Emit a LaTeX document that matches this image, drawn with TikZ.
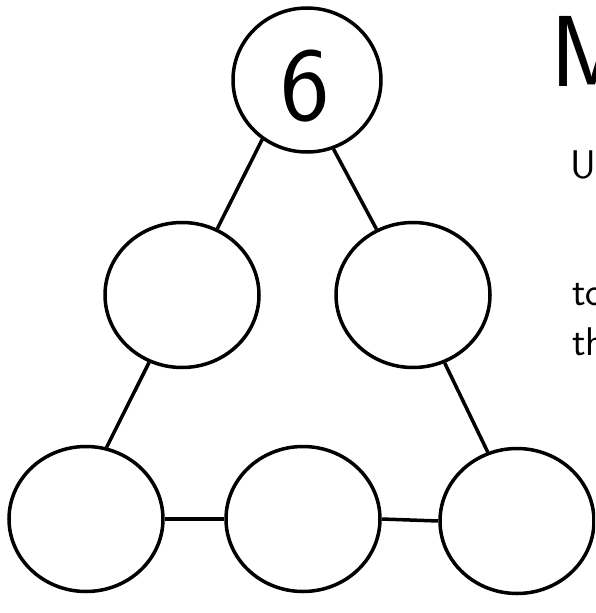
\documentclass[tikz,border=0pt]{standalone}
\usepackage{tikz}
\usetikzlibrary{shapes.geometric}
\tikzset{bubble/.style={draw,ellipse,line width=3.5pt,inner sep=0pt,minimum width=154pt,minimum height=145pt}}
\tikzset{link/.style={line width=3.5pt}}
\tikzset{hand/.style={inner sep=0pt,anchor=base west,font=\sffamily\fontsize{40}{40}\selectfont}}

\begin{document}
\begin{tikzpicture}[x=1pt,y=-1pt]
      \useasboundingbox (0,0) rectangle (595,613);
      \begin{scope}
        \clip (0,0) rectangle (595,613);
        \node[bubble,minimum width=148pt,minimum height=144pt] at (307,80) (top) {};
        \node[bubble] at (182,295) (midl) {};
        \node[bubble] at (413,295) (midr) {};
        \node[bubble] at (86,519) (botl) {};
        \node[bubble] at (303,519) (botm) {};
        \node[bubble] at (517,521) (botr) {};
        \node[inner sep=0pt,font=\sffamily\fontsize{105}{105}\selectfont] at (305,86) (six) {6};
        \draw[link] (top.233)--(midl.62);
        \draw[link] (top.291)--(midr.119);
        \draw[link] (midl.244)--(botl.74);
        \draw[link] (midr.295)--(botr.113);
        \draw[link] (botl.east)--(botm.west);
        \draw[link] (botm.east)--(botr.west);
        \node[hand,font=\sffamily\fontsize{101}{101}\selectfont] at (550,86) (title) {M};
        \node[hand] at (570,178) (use) {Us};
        \node[hand] at (572,305) (lineA) {to};
        \node[hand] at (572,355) (lineB) {th};
      \end{scope}
       \end{tikzpicture}
\end{document}
